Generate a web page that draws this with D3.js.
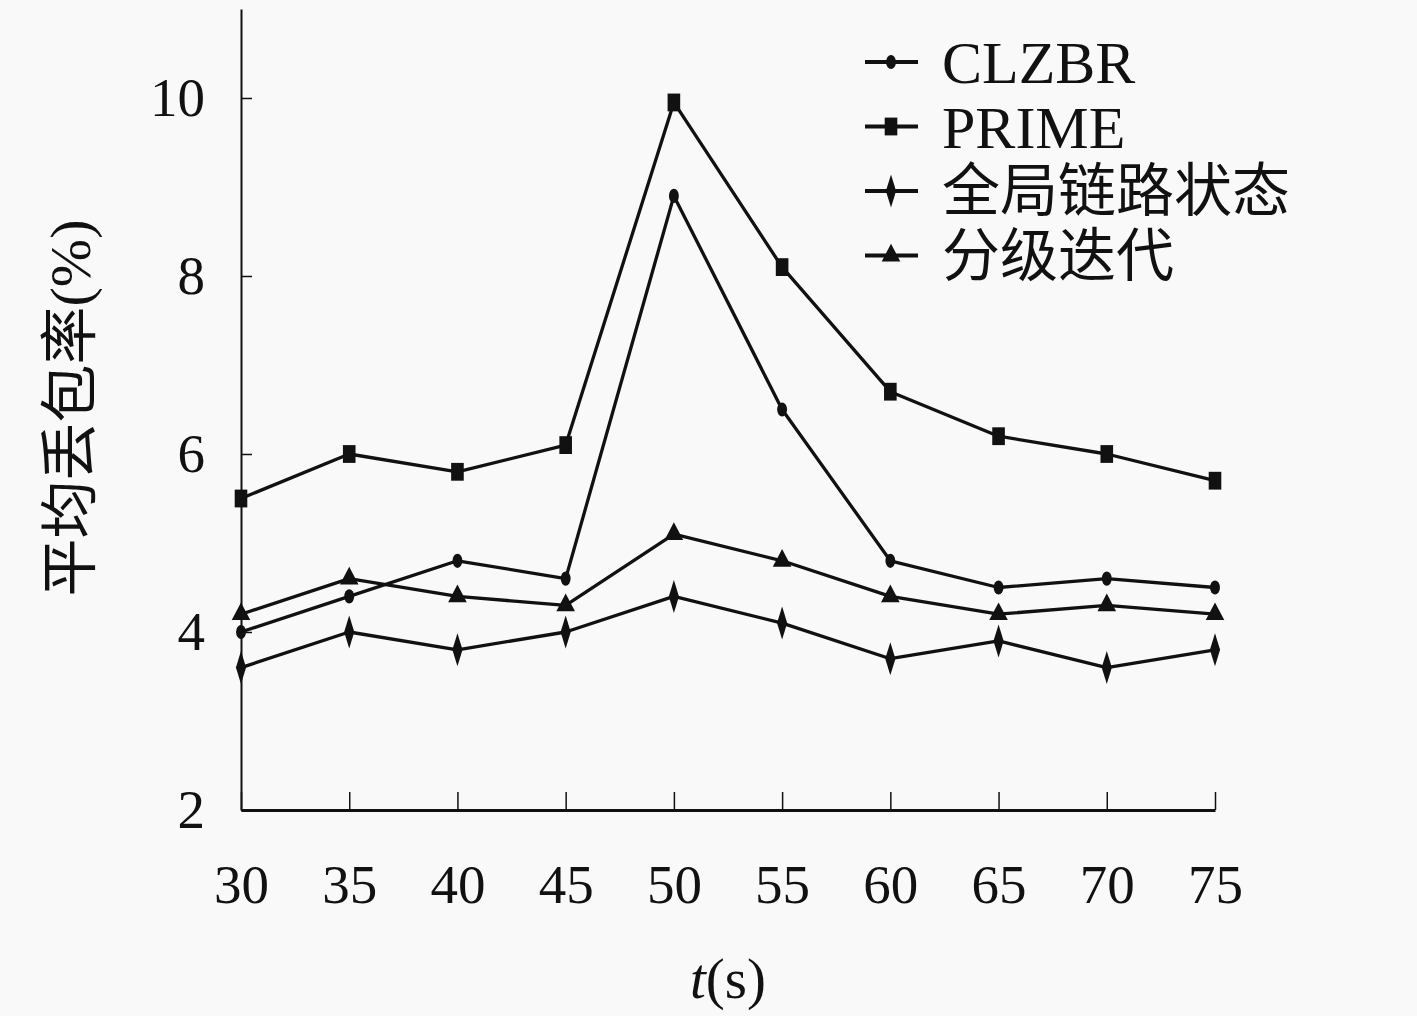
<!DOCTYPE html>
<html>
<head>
<meta charset="utf-8">
<script src="https://cdn.jsdelivr.net/npm/d3@7"></script>
<style>
  body { margin: 0; background: #f9f9f9; }
  text { font-family: "Liberation Serif", "Noto Sans CJK SC", serif; fill: #111; }
</style>
</head>
<body>
<div id="wrapper"></div>
<script>
// data
const times = [30, 35, 40, 45, 50, 55, 60, 65, 70, 75]
const clzbr = [4.0, 4.4, 4.8, 4.6, 8.9, 6.5, 4.8, 4.5, 4.6, 4.5]
const prime = [5.5, 6.0, 5.8, 6.1, 9.95, 8.1, 6.7, 6.2, 6.0, 5.7]
const globalLink = [3.6, 4.0, 3.8, 4.0, 4.4, 4.1, 3.7, 3.9, 3.6, 3.8]
const hierIter = [4.2, 4.6, 4.4, 4.3, 5.1, 4.8, 4.4, 4.2, 4.3, 4.2]
const seriesNames = ["CLZBR", "PRIME", "全局链路状态", "分级迭代"]
const yTicks = [2, 4, 6, 8, 10]

const series = [
  { name: seriesNames[0], values: clzbr, symbol: d3.symbolCircle, size: 120, sx: 0.8, sy: 1.15 },
  { name: seriesNames[1], values: prime, symbol: d3.symbolSquare, size: 220, sx: 0.85, sy: 1.2 },
  { name: seriesNames[2], values: globalLink, symbol: d3.symbolDiamond, size: 140, sx: 0.8, sy: 1.5 },
  { name: seriesNames[3], values: hierIter, symbol: d3.symbolTriangle, size: 150, sx: 1.0, sy: 1.1 },
]

const dimensions = { width: 1417, height: 1016 }

const svg = d3.select("#wrapper")
  .append("svg")
  .attr("width", dimensions.width)
  .attr("height", dimensions.height)

const xScale = d3.scaleLinear().domain([30, 75]).range([241, 1215])
const yScale = d3.scaleLinear().domain([2, 11]).range([810, 9])

// y axis
const yAxis = svg.append("g")
  .attr("transform", `translate(${xScale(30)},0)`)
  .call(d3.axisLeft(yScale).tickValues(yTicks).tickSize(-11).tickSizeOuter(0).tickPadding(36))
yAxis.select(".domain").attr("stroke", "#111").attr("stroke-width", 2)
yAxis.selectAll(".tick line").attr("stroke", "#111").attr("stroke-width", 1.5)
yAxis.selectAll(".tick text").attr("font-size", 55).attr("font-family", "Liberation Serif").attr("fill", "#111")

// x axis
const xAxis = svg.append("g")
  .attr("transform", `translate(0,${yScale(2)})`)
  .call(d3.axisBottom(xScale).tickValues(times).tickSize(-18).tickSizeOuter(0).tickPadding(54))
xAxis.select(".domain").attr("stroke", "#111").attr("stroke-width", 3)
xAxis.selectAll(".tick line").attr("stroke", "#111").attr("stroke-width", 1.5)
xAxis.selectAll(".tick text").attr("font-size", 55).attr("font-family", "Liberation Serif").attr("fill", "#111")

// lines
const line = d3.line()
  .x((d, i) => xScale(times[i]))
  .y(d => yScale(d))

series.forEach(s => {
  svg.append("path")
    .datum(s.values)
    .attr("d", line)
    .attr("fill", "none")
    .attr("stroke", "#111")
    .attr("stroke-width", 3.3)
    .attr("stroke-linejoin", "round")

  svg.selectAll(null)
    .data(s.values)
    .enter().append("path")
    .attr("d", d3.symbol().type(s.symbol).size(s.size))
    .attr("transform", (d, i) => `translate(${xScale(times[i])},${yScale(d)}) scale(${s.sx},${s.sy})`)
    .attr("fill", "#111")
})

// legend
const legend = svg.append("g").attr("transform", "translate(865,62)")
series.forEach((s, i) => {
  const g = legend.append("g").attr("transform", `translate(0,${i * 64.5})`)
  g.append("line")
    .attr("x1", 0).attr("x2", 53)
    .attr("stroke", "#111").attr("stroke-width", 4)
  g.append("path")
    .attr("d", d3.symbol().type(s.symbol).size(s.size))
    .attr("transform", `translate(26,0) scale(${s.sx},${s.sy})`)
    .attr("fill", "#111")
  g.append("text")
    .attr("x", 77)
    .attr("dy", "0.35em")
    .attr("font-size", i < 2 ? 60 : 58)
    .text(s.name)
})

// axis titles
svg.append("text")
  .attr("transform", `translate(70,${408}) rotate(-90)`)
  .attr("text-anchor", "middle")
  .attr("dy", "0.35em")
  .attr("font-size", 58)
  .text("平均丢包率(%)")

const xTitle = svg.append("text")
  .attr("x", 728)
  .attr("y", 998)
  .attr("text-anchor", "middle")
  .attr("font-size", 57)
xTitle.append("tspan").attr("font-style", "italic").text("t")
xTitle.append("tspan").text("(s)")
</script>
</body>
</html>
